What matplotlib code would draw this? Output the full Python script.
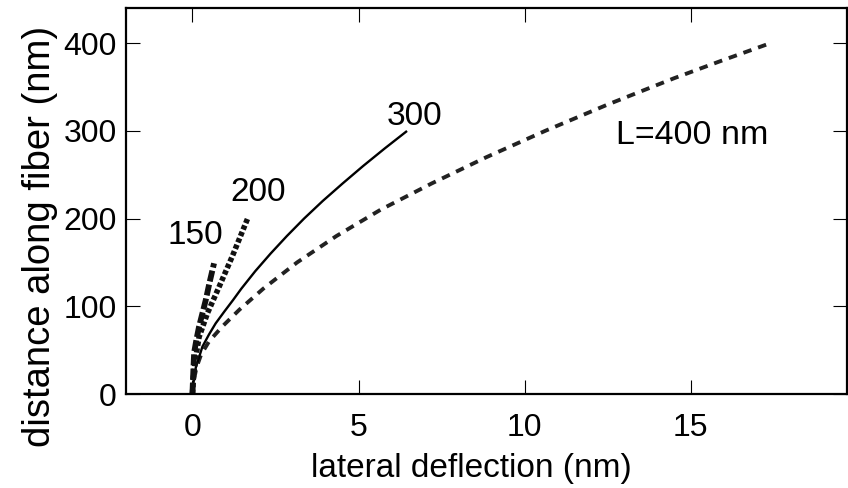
import matplotlib
matplotlib.use("Agg")
import matplotlib.pyplot as plt

plt.rcParams['font.family'] = ['Liberation Sans', 'DejaVu Sans']

# L = 150 nm
y150 = [0, 20, 47, 62, 77, 92, 107, 128, 149]
x150 = [0, 0.02, 0.05, 0.12, 0.20, 0.30, 0.40, 0.52, 0.65]
# L = 200 nm
y200 = [0, 20, 42, 65, 92, 122, 157, 200]
x200 = [0, 0.03, 0.10, 0.20, 0.45, 0.80, 1.20, 1.66]
# L = 300 nm
y300 = [0, 10, 30, 54, 68, 80.6, 94, 107, 120, 140, 160, 180, 200, 220, 240, 260, 280, 299]
x300 = [0, 0.02, 0.10, 0.30, 0.50, 0.70, 0.96, 1.22, 1.47, 1.89, 2.35, 2.84, 3.36, 3.92,
        4.52, 5.14, 5.79, 6.43]
# L = 400 nm
y400 = [0, 15, 30, 45, 60, 77, 96, 120, 150, 180, 210, 240, 270, 300, 330, 360, 380, 400]
x400 = [0, 0.04, 0.12, 0.26, 0.50, 0.90, 1.41, 2.13, 3.15, 4.33, 5.66, 7.20, 8.85,
        10.62, 12.50, 14.50, 15.93, 17.40]

xticks = [0, 5, 10, 15]
yticks = [0, 100, 200, 300, 400]

fig = plt.figure(figsize=(8.48, 4.88), dpi=100)
ax = fig.add_axes([126/848, 1-394/488, (847-126)/848, (394-8)/488])

ax.plot(x400, y400, color='#222222', lw=2.8, ls=(0, (2.2, 1.8)))
ax.plot(x300, y300, color='black', lw=1.7)
ax.plot(x200, y200, color='#111111', lw=4.0, ls=(0, (0.8, 0.45)))
ax.plot(x150, y150, color='#111111', lw=4.2, ls=(0, (1.9, 0.55)))

ax.text(0.10, 181, '150', fontsize=24, ha='center', va='center')
ax.text(1.98, 230, '200', fontsize=24, ha='center', va='center')
ax.text(6.69, 316, '300', fontsize=24, ha='center', va='center')
ax.text(15.04, 295, 'L=400 nm', fontsize=24.5, ha='center', va='center')

ax.set_xlim(-2, 19.7)
ax.set_ylim(0, 440)
ax.set_xticks(xticks)
ax.set_yticks(yticks)
ax.tick_params(direction='in', length=10, width=0.8, top=True, right=True,
               labelsize=23, colors='black')
ax.tick_params(axis='x', pad=14)
ax.tick_params(axis='y', pad=6.5)
for s in ax.spines.values():
    s.set_linewidth(1.6)

ax.set_xlabel('lateral deflection (nm)', fontsize=24)
ax.xaxis.set_label_coords((471.5-126)/721, (394-476.5)/386)
ax.xaxis.label.set_va('baseline')

ax.set_ylabel('distance along fiber (nm)', fontsize=27.5)
ax.yaxis.set_label_coords((50-126)/721, (394-236)/386)
ax.yaxis.label.set_va('baseline')

fig.savefig('out.png', dpi=100)
